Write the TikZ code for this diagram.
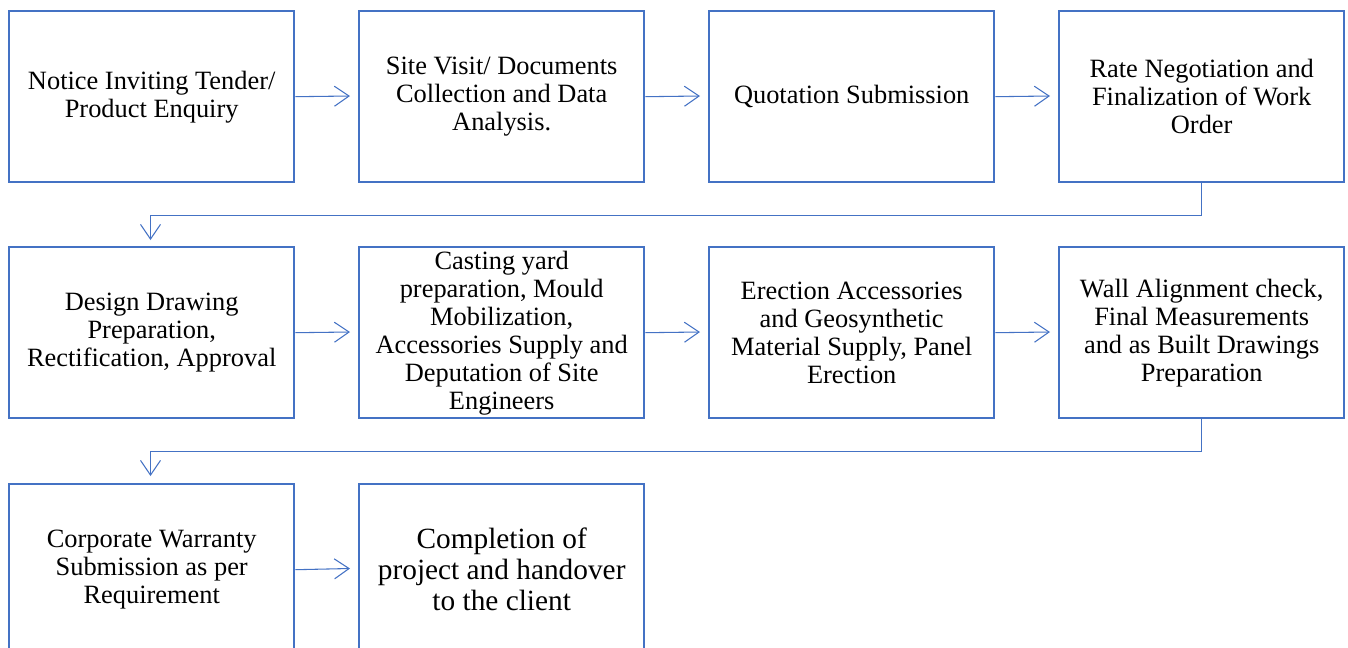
\documentclass[tikz,border=0pt]{standalone}
\usepackage{fontspec}
\setmainfont{Liberation Serif}
\usetikzlibrary{arrows.meta}
\definecolor{bx}{RGB}{68,114,196}
\begin{document}
\begin{tikzpicture}[x=0.75pt,y=-0.75pt,
  box/.style={draw=bx,line width=1.8pt,minimum width=285*0.75pt,minimum height=171*0.75pt,align=center,inner sep=0pt,font=\fontsize{19.8}{21}\selectfont,anchor=north west},
  bigbox/.style={box,font=\fontsize{22}{23.3}\selectfont},
  conn/.style={draw=bx,line width=0.8pt,-{Straight Barb[length=11pt,width=15pt,line width=0.8pt]}}]
\useasboundingbox (0,0) rectangle (1348,647);
\begin{scope}
\clip (0,0) rectangle (1348,647);
\node[box] (b1) at (8,10) {Notice Inviting Tender/\\Product Enquiry};
\node[box] (b2) at (358,10) {Site Visit/ Documents\\Collection and Data\\Analysis.};
\node[box] (b3) at (708,10) {Quotation Submission};
\node[box] (b4) at (1058,10) {Rate Negotiation and\\Finalization of Work\\Order};
\node[box] (b5) at (8,246) {Design Drawing\\Preparation,\\Rectification, Approval};
\node[box] (b6) at (358,246) {Casting yard\\preparation, Mould\\Mobilization,\\Accessories Supply and\\Deputation of Site\\Engineers};
\node[box] (b7) at (708,246) {Erection Accessories\\and Geosynthetic\\Material Supply, Panel\\Erection};
\node[box] (b8) at (1058,246) {Wall Alignment check,\\Final Measurements\\and as Built Drawings\\Preparation};
\node[box] (b9) at (8,483) {Corporate Warranty\\Submission as per\\Requirement};
\node[bigbox] (b10) at (358,483) {Completion of\\project and handover\\to the client};
\end{scope}
\coordinate (t1) at (350,96);
\coordinate (t2) at (700,96);
\coordinate (t3) at (1050,96);
\draw[conn] (b1.east) -- (t1);
\draw[conn] (b2.east) -- (t2);
\draw[conn] (b3.east) -- (t3);
\coordinate (u1) at (350,332);
\coordinate (u2) at (700,332);
\coordinate (u3) at (1050,332);
\draw[conn] (b5.east) -- (u1);
\draw[conn] (b6.east) -- (u2);
\draw[conn] (b7.east) -- (u3);
\coordinate (w1) at (350,568.5);
\draw[conn] (b9.east) -- (w1);
\coordinate (d1) at (150.5,240);
\draw[conn] (b4.south) -- ++(0,32) -| (d1);
\coordinate (d2) at (150.5,476);
\draw[conn] (b8.south) -- ++(0,32) -| (d2);
\end{tikzpicture}
\end{document}
